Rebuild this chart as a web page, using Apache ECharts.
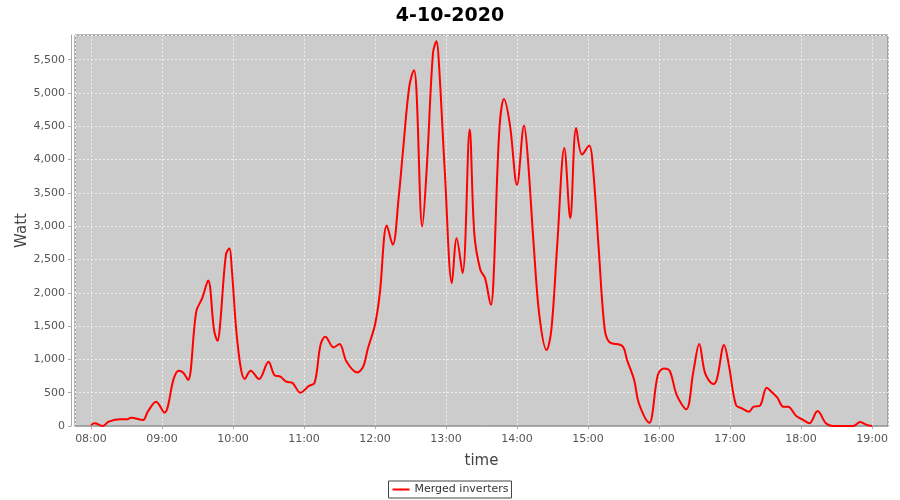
<!DOCTYPE html>
<html><head><meta charset="utf-8">
<script src="https://cdn.jsdelivr.net/npm/echarts@6/dist/echarts.min.js"></script>
<style>html,body{margin:0;padding:0;background:#fff}#c{width:900px;height:500px}</style>
</head><body><div id="c"></div>
<script>
const title = "4-10-2020";
const seriesName = "Merged inverters";
const times = ["08:00","08:03","08:10","08:15","08:25","08:30","08:34","08:44","08:48","08:55","09:02","09:10","09:14","09:18","09:22","09:29","09:34","09:39","09:44","09:47","09:49","09:54","09:57","09:59","10:04","10:10","10:15","10:22","10:30","10:35","10:40","10:45","10:50","10:57","11:04","11:09","11:14","11:18","11:25","11:30","11:36","11:45","11:50","11:54","12:00","12:04","12:10","12:15","12:20","12:24","12:29","12:33","12:35","12:40","12:44","12:49","12:52","12:54","12:59","13:05","13:09","13:14","13:20","13:24","13:29","13:33","13:38","13:40","13:45","13:49","13:54","14:00","14:06","14:09","14:14","14:19","14:25","14:29","14:34","14:40","14:45","14:50","14:55","15:01","15:04","15:09","15:14","15:18","15:29","15:33","15:39","15:43","15:52","15:54","15:59","16:04","16:09","16:15","16:23","16:29","16:34","16:39","16:46","16:49","16:55","16:59","17:05","17:10","17:16","17:20","17:25","17:31","17:35","17:40","17:45","17:49","17:56","18:02","18:07","18:14","18:21","18:27","18:44","18:50","18:55","19:00"];
const watts = [15,40,0,65,100,100,125,90,215,365,200,715,830,800,690,1720,1920,2185,1440,1280,1500,2570,2670,2355,1220,705,830,705,965,765,740,665,650,500,600,650,1220,1340,1180,1230,965,805,890,1165,1520,1980,3010,2720,3430,4200,5100,5340,5050,2995,3950,5600,5775,5450,3820,2145,2820,2295,4450,2870,2345,2220,1820,2145,4425,4910,4525,3620,4510,4060,2745,1645,1140,1440,2720,4175,3120,4475,4075,4210,3920,2670,1470,1260,1200,990,690,340,50,140,765,865,830,465,250,815,1230,790,630,710,1215,915,315,265,215,290,300,575,515,425,290,290,150,90,40,225,40,0,0,60,20,0];
const xRange = ["07:46:30","19:13:30"];
const yMin = 0, yMax = 5870, yStep = 500;

function ts(s){const p=s.split(":").map(Number);return new Date(2020,9,4,p[0],p[1],p[2]||0).getTime();}
const data = times.map((t,i)=>[ts(t),watts[i]]);
const font = "DejaVu Sans";
const chart = echarts.init(document.getElementById('c'));
chart.setOption({
  animation:false,
  backgroundColor:'#ffffff',
  title:{text:title,left:'center',top:2,textStyle:{fontFamily:font,fontSize:19,fontWeight:'bold',color:'#000'}},
  grid:{left:75,right:12,top:35,bottom:74,show:true,backgroundColor:'#cccccc',borderColor:'#777777',borderWidth:1},
  legend:{bottom:2,left:'center',data:[seriesName],itemWidth:17,itemHeight:2,itemGap:4,
    borderColor:'#444',borderWidth:1,borderRadius:0,padding:[3,3,3,3],
    textStyle:{fontFamily:font,fontSize:11,color:'#333'}},
  xAxis:{type:'time',min:ts(xRange[0]),max:ts(xRange[1]),minInterval:3600000,maxInterval:3600000,
    offset:3,name:'time',nameLocation:'middle',nameGap:25,nameMoveOverlap:false,
    nameTextStyle:{fontFamily:font,fontSize:15,color:'#444'},
    axisLine:{lineStyle:{color:'#aaaaaa'}},axisTick:{length:3,lineStyle:{color:'#aaaaaa'}},
    axisLabel:{fontFamily:font,fontSize:11,color:'#555',margin:5,formatter:'{HH}:{mm}',showMinLabel:false,showMaxLabel:false,hideOverlap:false},
    splitLine:{show:true,lineStyle:{color:'#eeeeee',type:[2,2],width:1}}},
  yAxis:{type:'value',min:yMin,max:yMax,interval:yStep,offset:4,name:'Watt',nameLocation:'middle',nameGap:41,nameMoveOverlap:false,
    nameTextStyle:{fontFamily:font,fontSize:15,color:'#444'},
    axisLine:{show:true,lineStyle:{color:'#aaaaaa'}},axisTick:{show:true,length:3,lineStyle:{color:'#aaaaaa'}},
    axisLabel:{fontFamily:font,fontSize:11,color:'#555',margin:6,showMaxLabel:false,
      formatter:v=>v.toLocaleString('en-US')},
    splitLine:{show:true,lineStyle:{color:'#eeeeee',type:[2,2],width:1}}},
  series:[{name:seriesName,type:'line',data:data,smooth:0.35,showSymbol:false,symbol:'rect',symbolSize:3,
    lineStyle:{color:'#ff0000',width:2},itemStyle:{color:'#ff0000'}}]
});
</script></body></html>
